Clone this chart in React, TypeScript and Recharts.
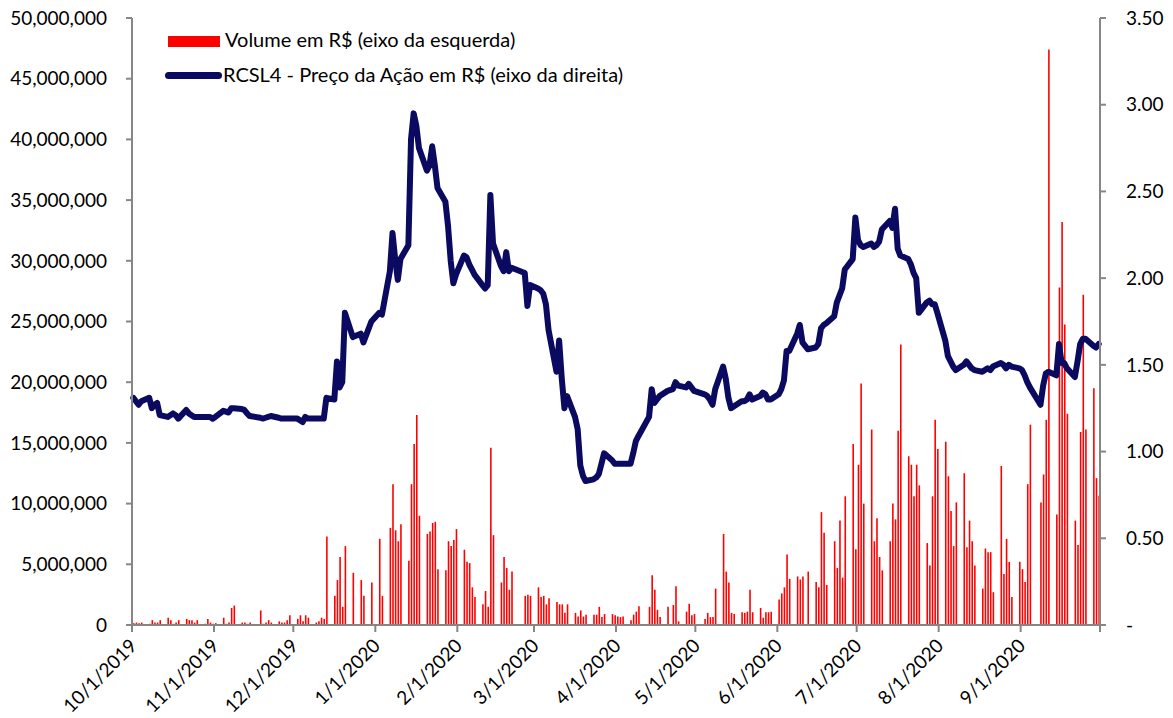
import { Bar, ComposedChart, Legend, Line, XAxis, YAxis } from "recharts";

const tickLabels = [
  "10/1/2019", "11/1/2019", "12/1/2019", "1/1/2020", "2/1/2020", "3/1/2020",
  "4/1/2020", "5/1/2020", "6/1/2020", "7/1/2020", "8/1/2020", "9/1/2020",
];

const months: [number, number][] = [
  [2019, 9], [2019, 10], [2019, 11], [2020, 0], [2020, 1], [2020, 2],
  [2020, 3], [2020, 4], [2020, 5], [2020, 6], [2020, 7], [2020, 8],
];

// B3 closed on these weekdays
const holidays = [
  "2019-11-15", "2019-12-24", "2019-12-25", "2019-12-31", "2020-01-01",
  "2020-02-24", "2020-02-25", "2020-04-10", "2020-04-21", "2020-05-01",
  "2020-06-11", "2020-09-07",
];

// RCSL4 closing price, R$ (one value per trading day)
const priceOct19 = [1.31, 1.29, 1.27, 1.29, 1.31, 1.25, 1.27, 1.28, 1.21, 1.2, 1.21, 1.22, 1.21, 1.19, 1.24, 1.22, 1.21, 1.2, 1.2, 1.2, 1.2, 1.2, 1.19];
const priceNov19 = [1.2, 1.235, 1.23, 1.225, 1.25, 1.25, 1.245, 1.24, 1.22, 1.205, 1.195, 1.19, 1.195, 1.2, 1.205, 1.195, 1.19, 1.19, 1.19, 1.19];
const priceDec19 = [1.19, 1.18, 1.17, 1.2, 1.19, 1.19, 1.19, 1.19, 1.19, 1.31, 1.3, 1.52, 1.37, 1.4, 1.8, 1.66, 1.68, 1.63, 1.75];
const priceJan20 = [1.8, 1.79, 2.04, 2.26, 2.11, 1.99, 2.11, 2.19, 2.8, 2.95, 2.88, 2.75, 2.62, 2.65, 2.76, 2.65, 2.52, 2.44, 2.3, 2.1, 1.97, 2.02];
const priceFeb20 = [2.13, 2.12, 2.08, 2.05, 2.02, 1.96, 1.94, 1.96, 2.48, 2.2, 2.07, 2.04, 2.15, 2.04, 2.06, 2.03, 1.84, 1.96];
const priceMar20 = [1.94, 1.93, 1.91, 1.85, 1.7, 1.46, 1.64, 1.42, 1.25, 1.32, 1.2, 1.13, 0.92, 0.86, 0.83, 0.84, 0.85, 0.87, 0.93, 0.99, 0.95, 0.93];
const priceApr20 = [0.93, 0.93, 0.93, 0.93, 0.99, 1.06, 1.09, 1.2, 1.36, 1.28, 1.3, 1.32, 1.35, 1.36, 1.4, 1.38, 1.37, 1.39, 1.37, 1.35];
const priceMay20 = [1.33, 1.32, 1.3, 1.27, 1.36, 1.49, 1.42, 1.31, 1.25, 1.26, 1.29, 1.29, 1.3, 1.33, 1.3, 1.32, 1.34, 1.33, 1.3, 1.3];
const priceJun20 = [1.33, 1.36, 1.41, 1.58, 1.58, 1.68, 1.73, 1.63, 1.59, 1.6, 1.62, 1.71, 1.73, 1.74, 1.78, 1.86, 1.9, 1.94, 2.05, 2.11, 2.35];
const priceJul20 = [2.22, 2.19, 2.18, 2.2, 2.18, 2.19, 2.21, 2.28, 2.33, 2.29, 2.4, 2.17, 2.13, 2.11, 2.08, 2.03, 2.0, 1.8, 1.86, 1.87, 1.85, 1.85, 1.8];
const priceAug20 = [1.64, 1.55, 1.52, 1.49, 1.47, 1.5, 1.52, 1.5, 1.48, 1.47, 1.46, 1.47, 1.48, 1.47, 1.49, 1.51, 1.5, 1.48, 1.5, 1.49, 1.48];
const priceSep20 = [1.47, 1.44, 1.4, 1.37, 1.27, 1.38, 1.45, 1.46, 1.44, 1.62, 1.51, 1.51, 1.48, 1.43, 1.52, 1.62, 1.65, 1.65, 1.61, 1.6, 1.62];

// traded volume, R$ millions (one value per trading day)
const volOct19 = [0.15, 0.2, 0.15, 0.2, 0.1, 0.4, 0.2, 0.2, 0.4, 0.6, 0.4, 0.1, 0.2, 0.4, 0.5, 0.4, 0.4, 0.2, 0.4, 0.1, 0.5, 0.2, 0.1];
const volNov19 = [0.15, 0.6, 0.1, 0.2, 1.4, 1.6, 0.2, 0.2, 0.1, 0.2, 1.2, 0.1, 0.2, 0.4, 0.2, 0.3, 0.2, 0.2, 0.4, 0.8];
const volDec19 = [0.5, 0.8, 0.3, 0.8, 0.6, 0.2, 0.3, 0.6, 0.5, 7.3, 2.4, 3.7, 5.6, 1.5, 6.5, 4.3, 3.7, 2.4, 3.5];
const volJan20 = [7.1, 2.4, 8.0, 11.6, 7.8, 6.9, 8.3, 5.3, 11.6, 14.9, 17.3, 9.0, 7.5, 7.7, 8.4, 8.5, 4.6, 4.5, 6.9, 6.5, 7.0, 7.9];
const volFeb20 = [6.2, 5.2, 5.1, 3.1, 2.3, 1.7, 2.8, 1.5, 14.6, 7.4, 3.5, 5.6, 4.7, 2.9, 4.4, 2.4, 2.5, 2.4];
const volMar20 = [3.1, 2.3, 2.4, 1.7, 2.2, 1.9, 1.7, 1.7, 1.0, 1.7, 1.0, 0.7, 1.2, 0.7, 0.85, 0.85, 0.85, 1.5, 0.65, 0.9, 0.9, 0.8];
const volApr20 = [0.7, 0.65, 0.7, 0.4, 0.85, 1.1, 1.55, 1.5, 4.1, 2.9, 1.25, 0.65, 1.5, 1.65, 3.2, 0.3, 1.1, 1.75, 0.8, 0.9];
const volMay20 = [0.5, 1.0, 0.65, 0.65, 3.0, 7.5, 4.4, 3.5, 1.0, 0.9, 1.05, 1.0, 1.1, 2.9, 1.05, 1.4, 0.6, 1.05, 1.05, 1.1];
const volJun20 = [2.1, 2.6, 3.1, 5.8, 3.8, 4.0, 3.75, 4.0, 4.4, 3.55, 3.1, 9.3, 7.6, 3.3, 6.9, 4.7, 8.6, 3.9, 10.6, 14.9, 6.25];
const volJul20 = [13.2, 19.9, 10.0, 16.1, 6.9, 8.8, 5.6, 4.5, 6.9, 10.0, 8.7, 16.0, 23.1, 13.9, 13.2, 10.6, 13.2, 11.5, 6.75, 4.9, 10.6, 16.9, 14.5];
const volAug20 = [15.1, 12.25, 9.4, 6.5, 10.1, 12.5, 6.4, 8.6, 6.9, 4.9, 3.0, 6.3, 6.0, 6.0, 2.7, 13.1, 4.2, 7.1, 5.2, 2.3, 5.2];
const volSep20 = [4.6, 3.55, 11.6, 16.5, 10.1, 12.4, 16.9, 47.4, 9.1, 27.8, 33.2, 24.75, 17.4, 8.6, 6.6, 15.9, 27.2, 16.1, 19.5, 12.1, 10.65];

const priceByMonth = [priceOct19, priceNov19, priceDec19, priceJan20, priceFeb20, priceMar20, priceApr20, priceMay20, priceJun20, priceJul20, priceAug20, priceSep20];
const volByMonth = [volOct19, volNov19, volDec19, volJan20, volFeb20, volMar20, volApr20, volMay20, volJun20, volJul20, volAug20, volSep20];

const DAY = 86400000;
const START = Date.UTC(2019, 9, 1);
const FONT = "Lato, 'Open Sans', sans-serif";
const AXIS = "#868686";

function tradingDays(year: number, month: number) {
  const out: number[] = [];
  for (let day = 1; day <= 31; day++) {
    const t = Date.UTC(year, month, day);
    const dt = new Date(t);
    if (dt.getUTCMonth() !== month) break;
    const wd = dt.getUTCDay();
    if (wd === 0 || wd === 6) continue;
    if (holidays.includes(dt.toISOString().slice(0, 10))) continue;
    out.push(Math.round((t - START) / DAY));
  }
  return out;
}

const data = months.flatMap(([y, m], i) =>
  tradingDays(y, m).map((d, j) => ({
    d,
    volume: volByMonth[i][j] * 1e6,
    price: priceByMonth[i][j],
  }))
);

// Excel date axis: tick marks sit between day slots
const xTicks = [
  ...months.map(([y, m]) => Math.round((Date.UTC(y, m, 1) - START) / DAY) - 0.5),
  365.5,
];

function DateTick(props: any) {
  const { x, y, index } = props;
  const label = tickLabels[index];
  if (!label) return null;
  const ax = x + 6;
  const ay = y + 13;
  return (
    <text
      x={ax}
      y={ay}
      transform={`rotate(-45, ${ax}, ${ay})`}
      textAnchor="end"
      fontSize={19}
      fontFamily={FONT}
      fill="#000"
    >
      {label}
    </text>
  );
}

function LegendBox() {
  const text = { fontFamily: FONT, fontSize: 20, color: "#000", whiteSpace: "nowrap" as const };
  return (
    <div style={{ position: "relative", width: 480, height: 62 }}>
      <div style={{ position: "absolute", left: 3, top: 9, width: 52, height: 11, background: "#ff0000" }} />
      <div style={{ ...text, position: "absolute", left: 60, top: 0 }}>Volume em R$ (eixo da esquerda)</div>
      <div style={{ position: "absolute", left: 0, top: 45, width: 57, height: 7, borderRadius: 4, background: "#0a0a60" }} />
      <div style={{ ...text, position: "absolute", left: 58, top: 35 }}>
        RCSL4 - Preço da Ação em R$ (eixo da direita)
      </div>
    </div>
  );
}

export default function App() {
  return (
    <div style={{ position: "absolute", left: 0, top: 0, background: "#fff" }}>
      <ComposedChart
        width={1173}
        height={718}
        data={data}
        margin={{ top: 18, right: 0, bottom: 0, left: 0 }}
      >
        <XAxis
          dataKey="d"
          type="number"
          domain={[-0.5, 365.5]}
          ticks={xTicks}
          interval={0}
          height={93}
          tickSize={7}
          tickMargin={2}
          tick={<DateTick />}
          axisLine={{ stroke: AXIS, strokeWidth: 2 }}
          tickLine={{ stroke: AXIS, strokeWidth: 2 }}
        />
        <YAxis
          yAxisId="left"
          orientation="left"
          width={132}
          domain={[0, 50000000]}
          ticks={[0, 5e6, 10e6, 15e6, 20e6, 25e6, 30e6, 35e6, 40e6, 45e6, 50e6]}
          interval={0}
          tickFormatter={(v: number) => v.toLocaleString("en-US")}
          tick={{ fontSize: 19, fontFamily: FONT, fill: "#000" }}
          tickSize={6}
          tickMargin={19}
          axisLine={{ stroke: AXIS, strokeWidth: 2 }}
          tickLine={{ stroke: AXIS, strokeWidth: 2 }}
        />
        <YAxis
          yAxisId="right"
          orientation="right"
          width={73}
          domain={[0, 3.5]}
          ticks={[0, 0.5, 1, 1.5, 2, 2.5, 3, 3.5]}
          interval={0}
          tickFormatter={(v: number) => (v === 0 ? "-" : v.toFixed(2))}
          tick={{ fontSize: 19, fontFamily: FONT, fill: "#000" }}
          tickSize={6}
          tickMargin={20}
          axisLine={{ stroke: AXIS, strokeWidth: 2 }}
          tickLine={{ stroke: AXIS, strokeWidth: 2 }}
        />
        <Legend
          layout="vertical"
          align="center"
          verticalAlign="middle"
          content={<LegendBox />}
          wrapperStyle={{ left: 165, top: 27, width: 480 }}
        />
        <Bar
          dataKey="volume"
          yAxisId="left"
          fill="#ff0000"
          barSize={1.6}
          isAnimationActive={false}
        />
        <Line
          dataKey="price"
          yAxisId="right"
          type="linear"
          stroke="#0a0a60"
          strokeWidth={6}
          strokeLinejoin="round"
          strokeLinecap="round"
          dot={false}
          activeDot={false}
          isAnimationActive={false}
        />
      </ComposedChart>
    </div>
  );
}
